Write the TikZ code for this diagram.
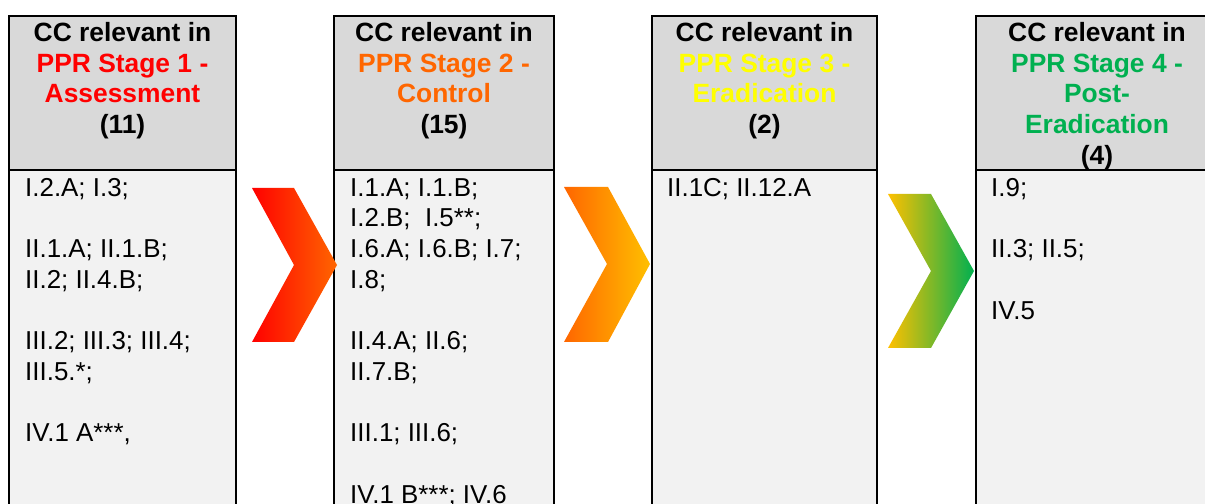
\documentclass[tikz,border=0pt]{standalone}
\usepackage{fontspec}
\setmainfont{Liberation Sans}
\definecolor{hdr}{HTML}{D9D9D9}
\definecolor{bdy}{HTML}{F2F2F2}
\definecolor{sone}{HTML}{FF0000}
\definecolor{stwo}{HTML}{FF6600}
\definecolor{sthree}{HTML}{FFFF00}
\definecolor{sfour}{HTML}{00B050}
\definecolor{amber}{HTML}{FFC000}
\tikzset{
 hdrbox/.style={draw=black, line width=2bp, fill=hdr},
 bdybox/.style={draw=black, line width=2bp, fill=bdy},
 hdrtext/.style={anchor=north, align=center, inner sep=0pt, font=\fontsize{26.5}{31}\selectfont\bfseries},
 bdytext/.style={anchor=north west, align=left, inner sep=0pt, font=\fontsize{26}{30.8}\selectfont},
}
\begin{document}
\begin{tikzpicture}[x=1bp,y=-1bp]
\useasboundingbox (0,0) rectangle (1205,504);
\clip (0,0) rectangle (1205,504);
\fill[white] (0,0) rectangle (1205,504);
% column boxes
\draw[bdybox] (9,170) rectangle (236,520);
\draw[hdrbox] (9,16) rectangle (236,170);
\draw[bdybox] (334,170) rectangle (554,520);
\draw[hdrbox] (334,16) rectangle (554,170);
\draw[bdybox] (652,170) rectangle (877,520);
\draw[hdrbox] (652,16) rectangle (877,170);
\draw[bdybox] (976,170) rectangle (1220,520);
\draw[hdrbox] (976,16) rectangle (1220,170);
% headers
\node[hdrtext] (h1) at (122.5,19.3) {\strut CC relevant in\\ \textcolor{sone}{PPR Stage 1 -}\\ \textcolor{sone}{Assessment}\\ (11)};
\node[hdrtext] (h2) at (444,19.3) {\strut CC relevant in\\ \textcolor{stwo}{PPR Stage 2 -}\\ \textcolor{stwo}{Control}\\ (15)};
\node[hdrtext] (h3) at (764.5,19.3) {\strut CC relevant in\\ \textcolor{sthree}{PPR Stage 3 -}\\ \textcolor{sthree}{Eradication}\\ (2)};
\node[hdrtext] (h4) at (1097,19.3) {\strut CC relevant in\\ \textcolor{sfour}{PPR Stage 4 -}\\ \textcolor{sfour}{Post-}\\ \textcolor{sfour}{Eradication}\\ (4)};
% bodies
\node[bdytext] (b1) at (25,174.4) {\strut I.2.A; I.3;\\[30.8bp] II.1.A; II.1.B;\\ II.2; II.4.B;\\[30.8bp] III.2; III.3; III.4;\\ III.5.*;\\[30.8bp] IV.1 A***,};
\node[bdytext] (b2) at (350,174.4) {\strut I.1.A; I.1.B;\\ I.2.B;\ \ I.5**;\\ I.6.A; I.6.B; I.7;\\ I.8;\\[30.8bp] II.4.A; II.6;\\ II.7.B;\\[30.8bp] III.1; III.6;\\[30.8bp] IV.1 B***; IV.6};
\node[bdytext] (b3) at (667,174.4) {\strut II.1C; II.12.A};
\node[bdytext] (b4) at (991,174.4) {\strut I.9;\\[30.8bp] II.3; II.5;\\[30.8bp] IV.5};
% chevrons
\shade[left color=sone, right color=stwo] (252,188) -- (294,188) -- (337,265) -- (294,342) -- (252,342) -- (294,265) -- cycle;
\shade[left color=stwo, right color=amber] (564,187) -- (608,187) -- (650,264) -- (608,342) -- (564,342) -- (607,264) -- cycle;
\shade[left color=amber, right color=sfour] (888,194) -- (931,194) -- (974,271) -- (931,348) -- (888,348) -- (931,271) -- cycle;
\end{tikzpicture}
\end{document}
